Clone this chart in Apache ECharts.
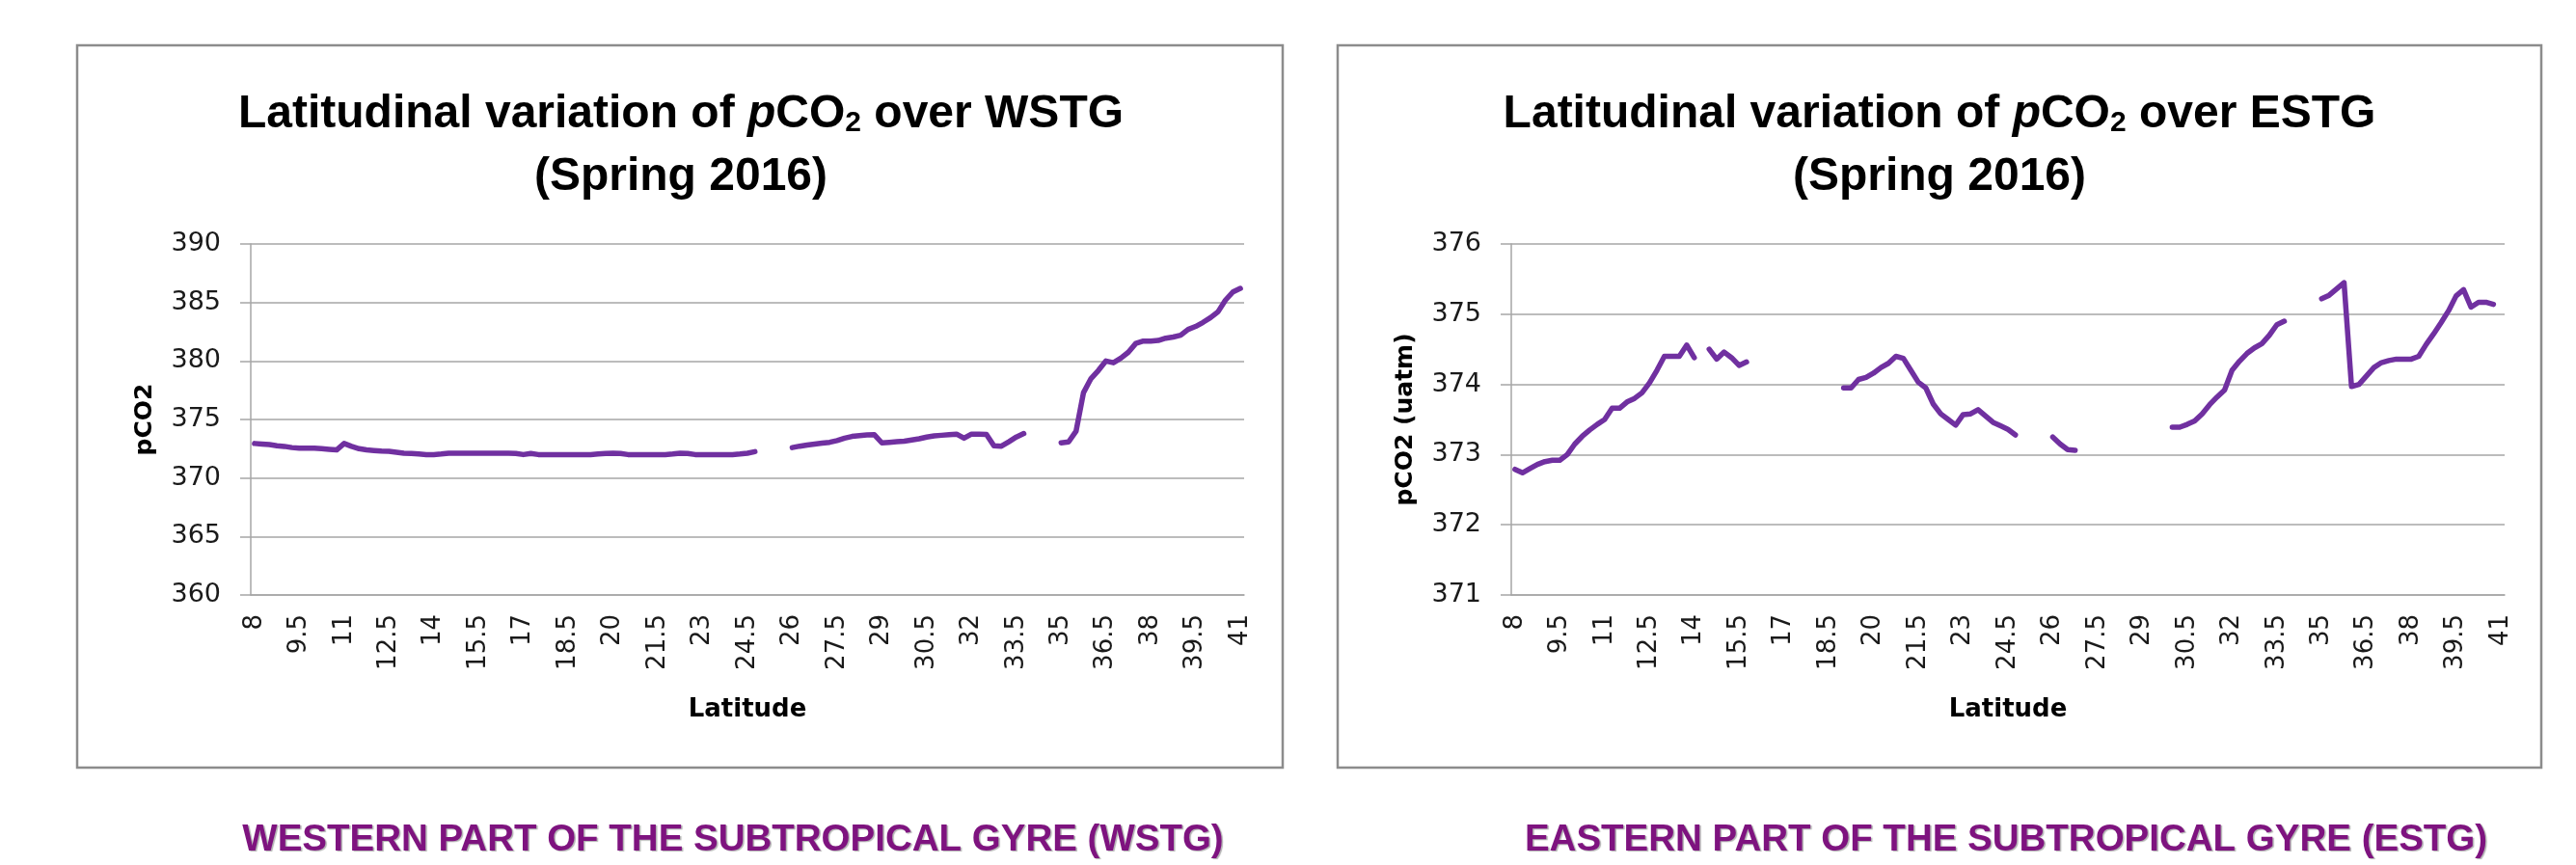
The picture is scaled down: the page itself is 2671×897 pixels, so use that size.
<!DOCTYPE html>
<html>
<head>
<meta charset="utf-8">
<script src="https://cdn.jsdelivr.net/npm/echarts@6/dist/echarts.min.js"></script>
<style>
  html, body { margin: 0; padding: 0; background: #ffffff; }
  #chart { width: 2671px; height: 897px; }
</style>
</head>
<body>
<div id="chart"></div>
<script>
// Latitude categories: 8 to 41 N at 0.25 degree steps
const latStart = 8, latStep = 0.25, latCount = 133;
const categories = [];
for (let i = 0; i < latCount; i++) categories.push(String(latStart + i * latStep));

// Tick labels shown on the latitude axis
const tickLabels = ['8','9.5','11','12.5','14','15.5','17','18.5','20','21.5','23','24.5',
  '26','27.5','29','30.5','32','33.5','35','36.5','38','39.5','41'];

// pCO2 over the western part of the subtropical gyre (WSTG), Spring 2016
const wstgValues = [
  372.95, 372.9, 372.85, 372.75, 372.7, 372.6, 372.55, 372.55, 372.55, 372.5, 372.45, 372.4,      // 8 - 10.75
  372.95, 372.7, 372.5, 372.4, 372.35, 372.3, 372.28, 372.2, 372.12, 372.1, 372.05, 372.0,        // 11 - 13.75
  372.0, 372.05, 372.12, 372.12, 372.12, 372.12, 372.12, 372.12, 372.12, 372.12, 372.12, 372.1,   // 14 - 16.75
  372.0, 372.1, 372.0, 372.0, 372.0, 372.0, 372.0, 372.0, 372.0, 372.0, 372.05, 372.1,            // 17 - 19.75
  372.12, 372.1, 372.0, 372.0, 372.0, 372.0, 372.0, 372.0, 372.05, 372.12, 372.1, 372.0,          // 20 - 22.75
  372.0, 372.0, 372.0, 372.0, 372.0, 372.05, 372.12, 372.25, null, null, null, null,              // 23 - 25.75
  372.6, 372.72, 372.82, 372.9, 372.98, 373.05, 373.2, 373.4, 373.55, 373.62, 373.68, 373.7,      // 26 - 28.75
  373.0, 373.05, 373.1, 373.15, 373.25, 373.35, 373.5, 373.6, 373.65, 373.7, 373.75, 373.4,       // 29 - 31.75
  373.75, 373.75, 373.72, 372.75, 372.72, 373.1, 373.5, 373.8, null, null, null, null,            // 32 - 34.75
  373.0, 373.08, 374.0, 377.3, 378.5, 379.2, 380.0, 379.85, 380.25, 380.75, 381.5, 381.7,         // 35 - 37.75
  381.7, 381.75, 381.95, 382.05, 382.2, 382.7, 382.95, 383.3, 383.7, 384.2, 385.2, 385.9,         // 38 - 40.75
  386.2                                                                                            // 41
];

// pCO2 (uatm) over the eastern part of the subtropical gyre (ESTG), Spring 2016
const estgValues = [
  372.79, 372.74, 372.8, 372.86, 372.9, 372.92, 372.92, 373.0, 373.15, 373.26, 373.35, 373.43,    // 8 - 10.75
  373.5, 373.66, 373.66, 373.75, 373.8, 373.88, 374.02, 374.2, 374.4, 374.4, 374.4, 374.56,       // 11 - 13.75
  374.38, null, 374.5, 374.36, 374.46, 374.38, 374.27, 374.32, null, null, null, null,            // 14 - 16.75
  null, null, null, null, null, null, null, null, 373.95, 373.95, 374.07, 374.1,                  // 17 - 19.75
  374.16, 374.24, 374.3, 374.4, 374.37, 374.2, 374.03, 373.95, 373.72, 373.58, 373.5, 373.42,     // 20 - 22.75
  373.57, 373.58, 373.64, 373.55, 373.46, 373.41, 373.36, 373.28, null, null, null, null,         // 23 - 25.75
  373.25, 373.15, 373.07, 373.06, null, null, null, null, null, null, null, null,                 // 26 - 28.75
  null, null, null, null, 373.39, 373.39, 373.43, 373.48, 373.58, 373.71, 373.82, 373.92,         // 29 - 31.75
  374.2, 374.33, 374.44, 374.52, 374.58, 374.7, 374.85, 374.9, null, null, null, null,            // 32 - 34.75
  375.22, 375.27, 375.36, 375.45, 373.97, 374.0, 374.12, 374.24, 374.31, 374.34, 374.36, 374.36,  // 35 - 37.75
  374.36, 374.4, 374.57, 374.72, 374.88, 375.05, 375.26, 375.35, 375.1, 375.17, 375.17, 375.14,   // 38 - 40.75
  null                                                                                             // 41
];

const wstgAxis = { min: 360, max: 390, interval: 5 };
const estgAxis = { min: 371, max: 376, interval: 1 };

const titles = {
  wstg: '{a|Latitudinal variation of }{i|p}{a|CO}{s|2}{a| over WSTG}\n{a|(Spring 2016)}',
  estg: '{a|Latitudinal variation of }{i|p}{a|CO}{s|2}{a| over ESTG}\n{a|(Spring 2016)}'
};
const captions = ['WESTERN PART OF THE SUBTROPICAL GYRE (WSTG)', 'EASTERN PART OF THE SUBTROPICAL GYRE (ESTG)'];

const gridColor = '#a6a6a6';
const lineColor = '#7030a0';
const titleFont = 'Liberation Sans';
const richTitle = {
  a: { fontFamily: titleFont, fontWeight: 'bold', fontSize: 48, lineHeight: 65, fill: '#000', verticalAlign: 'bottom' },
  i: { fontFamily: titleFont, fontWeight: 'bold', fontStyle: 'italic', fontSize: 48, lineHeight: 65, fill: '#000', verticalAlign: 'bottom' },
  s: { fontFamily: titleFont, fontWeight: 'bold', fontSize: 30, lineHeight: 32, fill: '#000', verticalAlign: 'bottom' }
};

function makeX(gridIndex) {
  return {
    type: 'category', gridIndex: gridIndex, data: categories, boundaryGap: true,
    name: 'Latitude', nameLocation: 'middle', nameGap: 106,
    nameTextStyle: { fontFamily: 'DejaVu Sans', fontWeight: 'bold', fontSize: 26, color: '#000' },
    axisLine: { show: true, lineStyle: { color: gridColor, width: 1.5 } },
    axisTick: { show: false },
    axisLabel: {
      interval: function (index, value) { return tickLabels.indexOf(value) >= 0; },
      rotate: 90, margin: 20, fontFamily: 'DejaVu Sans', fontSize: 26, color: '#1a1a1a'
    },
    splitLine: { show: false }
  };
}
function makeY(gridIndex, ax, name) {
  return {
    type: 'value', gridIndex: gridIndex, min: ax.min, max: ax.max, interval: ax.interval,
    name: name, nameLocation: 'middle', nameGap: 97,
    nameTextStyle: { fontFamily: 'DejaVu Sans', fontWeight: 'bold', fontSize: 25, color: '#000' },
    axisLine: { show: true, lineStyle: { color: gridColor, width: 1.5 } },
    axisTick: { show: true, inside: false, length: 11, lineStyle: { color: gridColor, width: 1.5 } },
    axisLabel: { margin: 31, fontFamily: 'DejaVu Sans', fontSize: 27, color: '#1a1a1a' },
    splitLine: { show: true, lineStyle: { color: gridColor, width: 1.5 } }
  };
}
function makeSeries(idx, values) {
  return {
    type: 'line', xAxisIndex: idx, yAxisIndex: idx, data: values,
    showSymbol: false, symbol: 'none', connectNulls: false, smooth: false,
    lineStyle: { color: lineColor, width: 5.5, cap: 'round', join: 'round' }
  };
}

const chart = echarts.init(document.getElementById('chart'), null, { renderer: 'canvas' });
chart.setOption({
  animation: false,
  backgroundColor: '#ffffff',
  grid: [
    { left: 260, top: 253, width: 1030, height: 364 },
    { left: 1567, top: 253, width: 1030, height: 364 }
  ],
  xAxis: [makeX(0), makeX(1)],
  yAxis: [makeY(0, wstgAxis, 'pCO2'), makeY(1, estgAxis, 'pCO2 (uatm)')],
  series: [makeSeries(0, wstgValues), makeSeries(1, estgValues)],
  graphic: [
    { type: 'rect', shape: { x: 80, y: 47, width: 1250, height: 749 }, style: { fill: 'none', stroke: '#8c8c8c', lineWidth: 2.5 }, z: 0 },
    { type: 'rect', shape: { x: 1387, y: 47, width: 1248, height: 749 }, style: { fill: 'none', stroke: '#8c8c8c', lineWidth: 2.5 }, z: 0 },
    { type: 'text', x: 706, y: 78, style: { text: titles.wstg, rich: richTitle, align: 'center', verticalAlign: 'top', fill: '#000' }, z: 10 },
    { type: 'text', x: 2011, y: 78, style: { text: titles.estg, rich: richTitle, align: 'center', verticalAlign: 'top', fill: '#000' }, z: 10 },
    { type: 'text', x: 760, y: 871, style: { text: captions[0], font: 'bold 38.5px "Liberation Sans"', fill: '#7e137f', align: 'center', verticalAlign: 'middle',
      textShadowColor: 'rgba(0,0,0,0.3)', textShadowOffsetX: 1.5, textShadowOffsetY: 1, textShadowBlur: 1 }, z: 10 },
    { type: 'text', x: 2080, y: 871, style: { text: captions[1], font: 'bold 38.5px "Liberation Sans"', fill: '#7e137f', align: 'center', verticalAlign: 'middle',
      textShadowColor: 'rgba(0,0,0,0.3)', textShadowOffsetX: 1.5, textShadowOffsetY: 1, textShadowBlur: 1 }, z: 10 }
  ]
});
</script>
</body>
</html>
